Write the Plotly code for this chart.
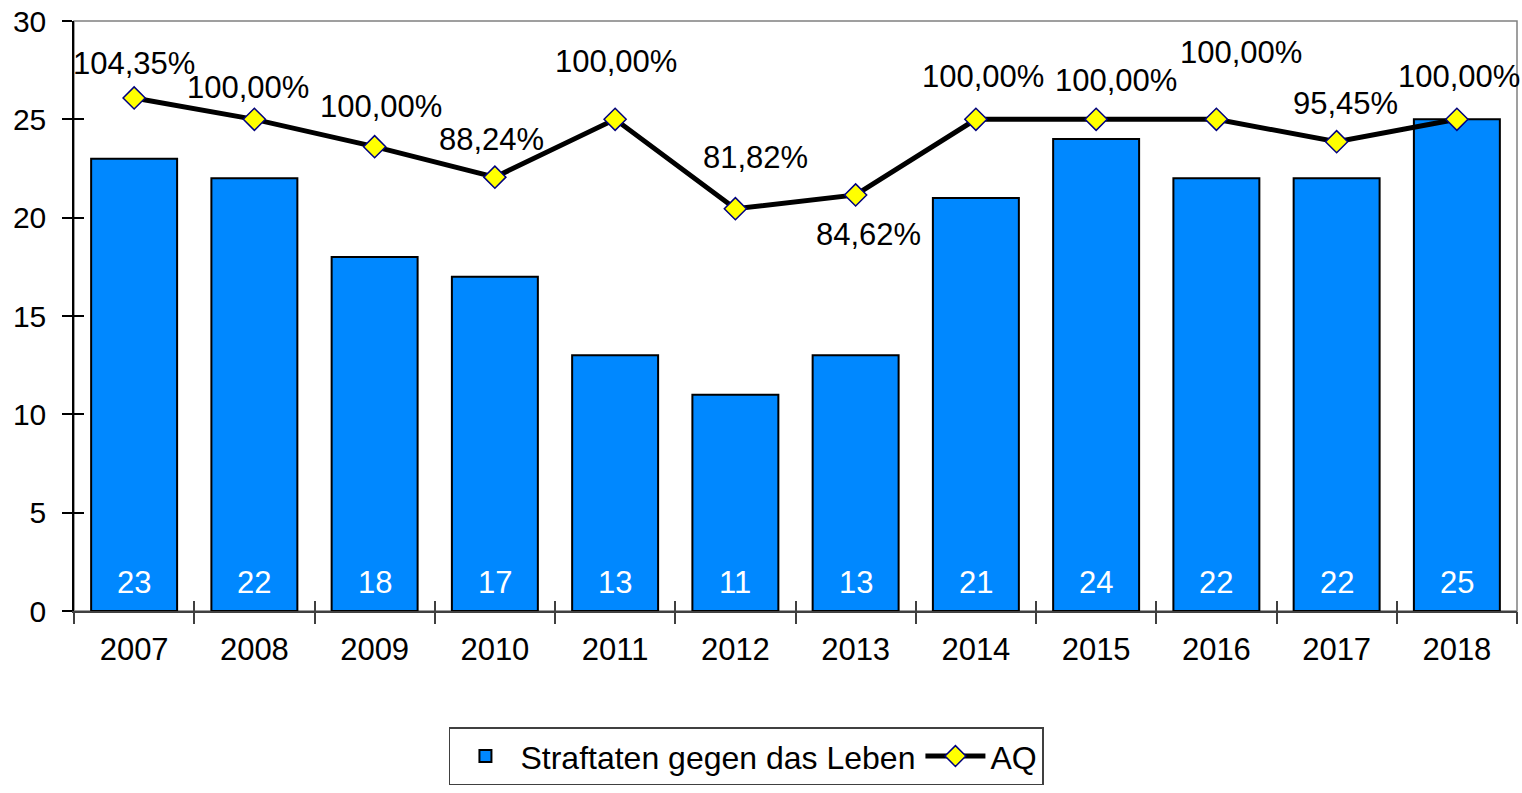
import plotly.graph_objects as go

years = ["2007", "2008", "2009", "2010", "2011", "2012", "2013", "2014", "2015", "2016", "2017", "2018"]
straftaten = [23, 22, 18, 17, 13, 11, 13, 21, 24, 22, 22, 25]
aq = [104.35, 100.00, 100.00, 88.24, 100.00, 81.82, 84.62, 100.00, 100.00, 100.00, 95.45, 100.00]
# line points as drawn (AQ axis 0..120%)
aq_plot = [104.35, 100.00, 94.44, 88.24, 100.00, 81.82, 84.62, 100.00, 100.00, 100.00, 95.45, 100.00]
y_ticks = [0, 5, 10, 15, 20, 25, 30]

# label offsets in pixels (x, y) relative to each point
label_offsets = [(0, 34), (-6, 32), (6, 40), (-3, 38), (1, 58), (20, 51), (13, -40), (7, 43), (20, 39), (25, 67), (9, 38), (2, 43)]

xpos = list(range(len(years)))
boundaries = [i - 0.5 for i in range(len(years) + 1)]

def fmt(v):
    return f"{v:.2f}".replace(".", ",") + "%"

FONT = "Liberation Sans, Arial"
FS = 31

fig = go.Figure()
fig.add_trace(go.Bar(
    x=xpos, y=straftaten, name="Straftaten gegen das Leben",
    marker=dict(color="#0088FF", line=dict(color="black", width=2)),
))
fig.add_trace(go.Scatter(
    x=xpos, y=aq_plot, name="AQ", yaxis="y2", mode="lines+markers",
    line=dict(color="black", width=5),
    marker=dict(symbol="diamond", size=17, color="#FFFF00", line=dict(color="#000080", width=1.5)),
))

for xi, v in zip(xpos, straftaten):
    fig.add_annotation(x=xi, y=0, xref="x", yref="y", text=str(v), showarrow=False,
                       yanchor="middle", yshift=29, font=dict(size=FS, color="white", family=FONT))

for xi, v, p, (dx, dy) in zip(xpos, aq, aq_plot, label_offsets):
    fig.add_annotation(x=xi, y=p, xref="x", yref="y2", text=fmt(v), showarrow=False,
                       xshift=dx, yshift=dy, font=dict(size=FS, color="black", family=FONT))

fig.add_shape(type="rect", xref="paper", yref="paper", x0=0, x1=1, y0=0, y1=1,
              line=dict(color="#808080", width=1.5), layer="below")

xr = [-0.5, len(years) - 0.5]
fig.update_layout(
    width=1522, height=793,
    margin=dict(l=74, r=5, t=21, b=182),
    paper_bgcolor="white", plot_bgcolor="white",
    font=dict(family=FONT, size=FS, color="black"),
    bargap=0.285,
    showlegend=True,
    legend=dict(orientation="h", x=0.466, xanchor="center", y=-0.197, yanchor="top",
                bordercolor="#404040", borderwidth=1.5, font=dict(size=32),
                itemwidth=60, traceorder="normal"),
    xaxis=dict(range=xr, tickvals=xpos, ticktext=years, ticks="", showline=True,
               linecolor="#404040", linewidth=1.5, showgrid=False, zeroline=False,
               tickfont=dict(size=FS), ticklabelstandoff=10),
    xaxis2=dict(range=xr, overlaying="x", anchor="y", tickvals=boundaries, showticklabels=False,
                ticks="outside", ticklen=12, tickcolor="#404040", tickwidth=1.5,
                showgrid=False, showline=False, zeroline=False),
    xaxis3=dict(range=xr, overlaying="x", anchor="y", tickvals=boundaries, showticklabels=False,
                ticks="inside", ticklen=10, tickcolor="#404040", tickwidth=1.5,
                showgrid=False, showline=False, zeroline=False),
    yaxis=dict(range=[0, 30], tickvals=y_ticks, showline=True, linecolor="black", linewidth=1.5,
               ticks="outside", ticklen=10, tickcolor="black", tickwidth=1.5, showgrid=False,
               zeroline=False, tickfont=dict(size=30), ticklabelstandoff=10),
    yaxis2=dict(range=[0, 120], overlaying="y", side="right", visible=False),
    yaxis3=dict(range=[0, 30], overlaying="y", anchor="x", tickvals=y_ticks, showticklabels=False,
                ticks="inside", ticklen=10, tickcolor="black", tickwidth=1.5, showgrid=False,
                showline=False, zeroline=False),
)
# invisible traces that activate the tick-mark overlay axes
fig.add_trace(go.Scatter(x=[None], y=[None], xaxis="x2", yaxis="y", showlegend=False, hoverinfo="skip"))
fig.add_trace(go.Scatter(x=[None], y=[None], xaxis="x3", yaxis="y3", showlegend=False, hoverinfo="skip"))

fig.write_html("out.html", config={"displayModeBar": False},
               post_script="document.body.style.margin='0';")
